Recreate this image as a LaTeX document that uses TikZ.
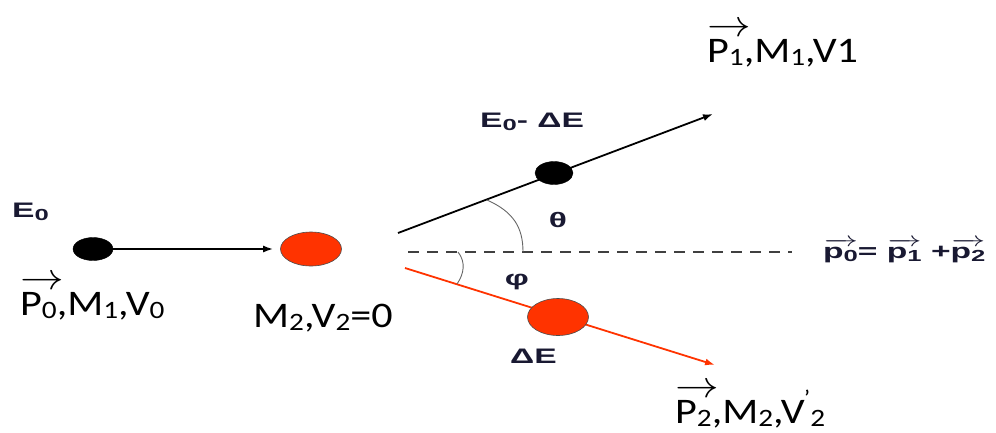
\documentclass[tikz,border=0pt]{standalone}
\usepackage{fontspec}
\usepackage{amsmath}
\usepackage{graphicx}
\setmainfont{Carlito}
\newfontfamily\labfont{Liberation Sans}
\usetikzlibrary{positioning, arrows.meta, shapes.geometric}
\definecolor{ballred}{RGB}{255,51,0}
\definecolor{ink}{RGB}{25,25,50}

% subscripts, vector arrows and the stretched look of the labels
\newcommand{\lo}[1]{\raisebox{-0.1em}{\fontsize{25}{25}\selectfont #1}}
\newcommand{\vecP}[1]{\rlap{\raisebox{0.72em}{\scalebox{1.5}{$\rightarrow$}}}P\lo{#1}}
\newcommand{\lsub}[1]{\raisebox{-0.18em}{\fontsize{16}{16}\selectfont #1}}
\newcommand{\vecp}[1]{$\overrightarrow{\hbox{p\lsub{#1}}}$}
\newcommand{\widelab}[1]{\scalebox{1.6}[1]{#1}}
\newcommand{\widetag}[1]{\scalebox{1.17}[1]{#1}}

\begin{document}
\begin{tikzpicture}[
  x=1pt, y=-1pt,
  ball/.style={
    ellipse,
    inner sep=0pt,
    minimum width=40pt,
    minimum height=23pt
  },
  blackball/.style={ball, draw=black, fill=black},
  redball/.style={ball, draw=black!70, line width=0.6pt, fill=ballred,
    minimum width=61pt, minimum height=34pt},
  arr/.style={-{Latex[length=10pt,width=7pt]}, line width=1.8pt},
  tag/.style={inner sep=0pt, anchor=base west, font=\fontsize{36}{40}\selectfont},
  lab/.style={inner sep=0pt, text=ink, font=\labfont\bfseries\fontsize{21}{22}\selectfont},
  angarc/.style={line width=0.9pt, black!60}
]
\useasboundingbox (0,0) rectangle (996,432);

% scattering directions
\coordinate (o1) at (398,233);
\coordinate (t1) at (713,114);
\coordinate (o2) at (405,268);
\coordinate (t2) at (715,365);
\coordinate (d0) at (408,252);
\coordinate (d1) at (792,252);

\draw[line width=1.4pt, black!75, dash pattern=on 11pt off 8pt] (d0) -- (d1);
\draw[arr] (o1) -- (t1);
\draw[arr, ballred] (o2) -- (t2);

% angles
\draw[angarc] (487,200) .. controls (514,212) and (523,228) .. (523,252);
\draw[angarc] (458,252) .. controls (466,262) and (464,274) .. (457,284);

% particles
\node[blackball] (m1) at (93,249) {};
\node[redball] (m2) at (311,249) {};
\node[blackball, minimum width=38pt] (m1s) at (554,173) {};
\node[redball, minimum width=61pt, minimum height=37pt] (m2s) at (558,317) {};

\draw[arr, shorten >=7pt] (m1) -- (m2);

% labels
\node[lab, anchor=base west] (e0) at (12,217) {\widelab{E\lsub{0}}};
\node[lab, anchor=base west] (e1) at (480,127) {\widelab{E\lsub{0}- ΔE}};
\node[lab, anchor=base west] (e2) at (510,363) {\widelab{ΔE}};
\node[lab] (th) at (558,220) {\widelab{θ}};
\node[lab] (ph) at (517,282) {\widelab{φ}};
\node[lab, anchor=base west] (sum) at (823,258) {\widelab{\vecp{0}= \vecp{1} +\vecp{2}}};

\node[tag] (s0) at (20,315) {\widetag{\vecP{0},M\lo{1},V\lo{0}}};
\node[tag] (s2) at (253,327) {\widetag{M\lo{2},V\lo{2}=0}};
\node[tag] (s1) at (707,62) {\widetag{\vecP{1},M\lo{1},V1}};
\node[tag] (s3) at (675,423) {\widetag{\vecP{2},M\lo{2},V\kern-0.02em\raisebox{0.5em}{\fontsize{22}{22}\selectfont ’}\lo{2}}};

\end{tikzpicture}
\end{document}
